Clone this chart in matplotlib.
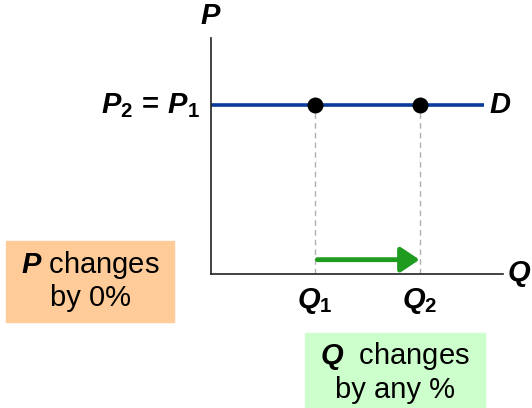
import matplotlib.pyplot as plt
from matplotlib.patches import Rectangle

plt.rcParams['font.family'] = ['Liberation Sans', 'DejaVu Sans']
plt.rcParams['mathtext.fontset'] = 'custom'
plt.rcParams['mathtext.rm'] = 'Liberation Sans'
plt.rcParams['mathtext.bf'] = 'Liberation Sans:bold'
plt.rcParams['mathtext.it'] = 'Liberation Sans:italic'
plt.rcParams['mathtext.bfit'] = 'Liberation Sans:bold:italic'

# perfectly elastic demand: price fixed, quantity moves
demand_q = [0, 2.62]
demand_p = [1, 1]
q_points = [1, 2]
p_points = [1, 1]
q_labels = [r'$\mathbfit{Q}_{\mathbf{1}}$', r'$\mathbfit{Q}_{\mathbf{2}}$']
price_label = r'$\mathbfit{P}_{\mathbf{2}}\,\mathbf{=}\,\mathbfit{P}_{\mathbf{1}}$'

W, H = 532, 408
fig = plt.figure(figsize=(W / 100, H / 100), dpi=100)
ax = fig.add_axes([211 / W, (H - 274) / H, 292 / W, 236 / H])
ax.set_xlim(0, 2.8)
ax.set_ylim(0, 1.4)
for s in ['top', 'right']:
    ax.spines[s].set_visible(False)
for s in ['left', 'bottom']:
    ax.spines[s].set_linewidth(1.2)
    ax.spines[s].set_color('#222222')
ax.set_xticks([])
ax.set_yticks([])

ax.plot(demand_q, demand_p, color='#0a3a9a', lw=2.6, solid_capstyle='butt', zorder=2)
for q, p in zip(q_points, p_points):
    ax.plot([q, q], [0, p], color='#b0b0b0', lw=1, ls=(0, (4, 3)), zorder=1)
ax.scatter(q_points, p_points, s=110, color='black', zorder=3)

ax.annotate('', xy=(q_points[1], 0.085), xytext=(q_points[0] + 0.02, 0.085),
            arrowprops=dict(arrowstyle='-|>,head_length=0.75,head_width=0.5',
                            mutation_scale=15, color='#1f9b1f', lw=3.5,
                            shrinkA=0, shrinkB=0))

big = 21
ax.text(0, 1.45, r'$\mathbfit{P}$', fontsize=big, ha='center', va='bottom')
ax.text(-0.1, demand_p[0], price_label, fontsize=big, ha='right', va='center')
ax.text(demand_q[1] + 0.05, demand_p[1], r'$\mathbfit{D}$', fontsize=big, ha='left', va='center')
ax.text(2.84, 0, r'$\mathbfit{Q}$', fontsize=big, ha='left', va='center')
for q, lab in zip(q_points, q_labels):
    ax.text(q, -0.07, lab, fontsize=big, ha='center', va='top')

# note boxes
fig.patches.append(Rectangle((6 / W, (H - 322) / H), 168 / W, 81 / H,
                             transform=fig.transFigure, color='#ffcc99', zorder=0))
fig.text(90 / W, (H - 265) / H, r'$\mathbfit{P}$ changes', fontsize=big, ha='center', va='center')
fig.text(90 / W, (H - 298) / H, 'by 0%', fontsize=big, ha='center', va='center')

fig.patches.append(Rectangle((305 / W, 0), 180 / W, (H - 333) / H,
                             transform=fig.transFigure, color='#ccffcc', zorder=0))
fig.text(395 / W, (H - 356) / H, r'$\mathbfit{Q}$  changes', fontsize=big, ha='center', va='center')
fig.text(395 / W, (H - 390) / H, 'by any %', fontsize=big, ha='center', va='center')

fig.savefig('out.png', dpi=100)
